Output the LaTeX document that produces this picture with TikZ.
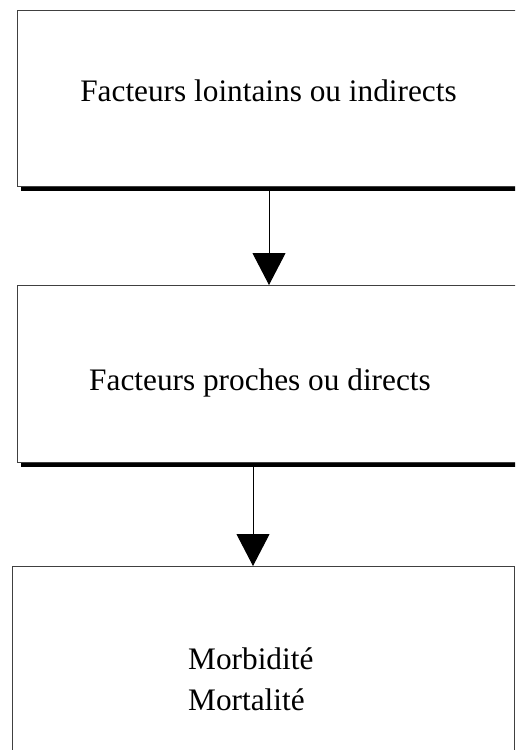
\documentclass[tikz,border=0pt]{standalone}
\usepackage{fontspec}
\setmainfont{Liberation Serif}
\usetikzlibrary{arrows.meta}
\begin{document}
\begin{tikzpicture}[x=1pt,y=1pt,
  boxstyle/.style={draw=black!75,line width=1pt,rectangle,inner sep=0pt},
  shadowline/.style={line width=3.2pt,black},
  txt/.style={font=\fontsize{31.3}{38}\selectfont,inner sep=0pt,text=black},
  conn/.style={line width=1pt,black,-{Triangle[width=33pt,length=32pt]}}]
\clip (0,0) rectangle (515,-750);
\fill[white] (0,0) rectangle (515,-750);
% boxes
\node[boxstyle,minimum width=510pt,minimum height=176pt,anchor=north west] (b1) at (17,-10) {};
\node[boxstyle,minimum width=510pt,minimum height=177pt,anchor=north west] (b2) at (17,-285) {};
\node[boxstyle,minimum width=502pt,minimum height=190pt,anchor=north west] (b3) at (12,-566) {};
% shadows
\draw[shadowline] ([xshift=4pt,yshift=-1.9pt]b1.south west) -- ([yshift=-1.9pt]b1.south east);
\draw[shadowline] ([xshift=4pt,yshift=-1.9pt]b2.south west) -- ([yshift=-1.9pt]b2.south east);
% texts
\node[txt,anchor=base] (t1) at (268.5,-101) {Facteurs lointains ou indirects};
\node[txt,anchor=base] (t2) at (260,-390) {Facteurs proches ou directs};
\node[txt,anchor=base west] (t3) at (188,-669) {Morbidité};
\node[txt,anchor=base west] (t4) at (188,-710) {Mortalité};
% connectors
\coordinate (a1) at (269,0);
\coordinate (a2) at (253,0);
\draw[conn] ([yshift=-3pt]b1.south -| a1) -- (b2.north -| a1);
\draw[conn] ([yshift=-3pt]b2.south -| a2) -- (b3.north -| a2);
\end{tikzpicture}
\end{document}
